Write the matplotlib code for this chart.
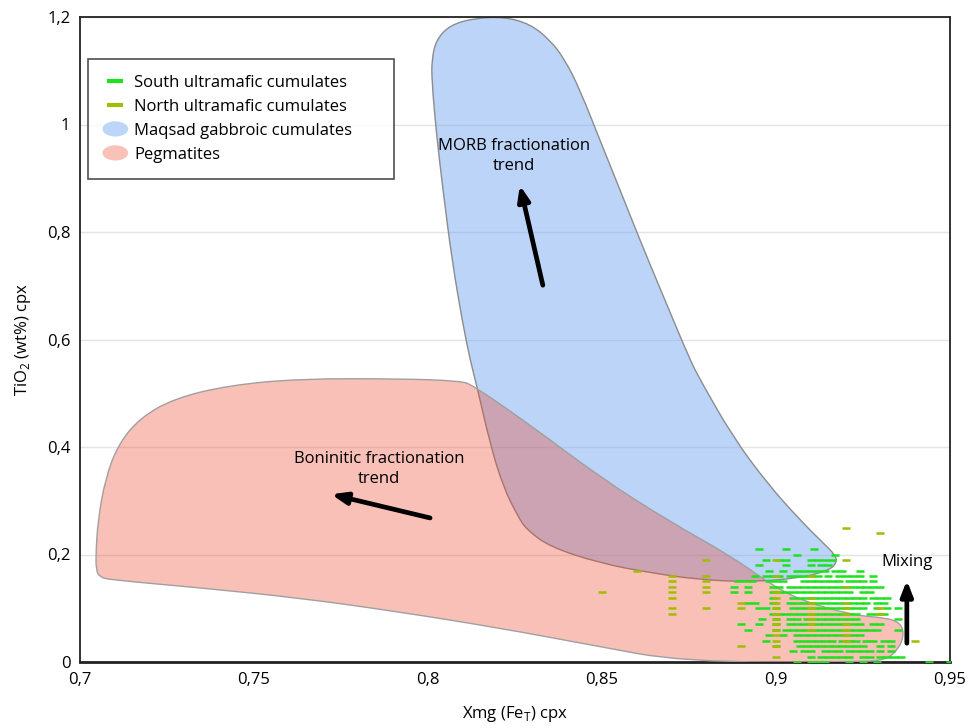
import matplotlib
matplotlib.use("Agg")
import matplotlib.pyplot as plt
import matplotlib.patches as mpatches
from matplotlib.path import Path
from matplotlib.lines import Line2D
from matplotlib.legend_handler import HandlerPatch, HandlerBase

plt.rcParams['font.family'] = ['Open Sans', 'DejaVu Sans']

# Outline of the Maqsad gabbroic cumulates field (Xmg, TiO2)
gabbro_x = [0.8011, 0.8011, 0.8023, 0.8063, 0.8135, 0.8221, 0.8293, 0.8351, 0.8394,
            0.8437, 0.8494, 0.8552, 0.8609, 0.8681, 0.8753, 0.8782, 0.8876, 0.8974,
            0.9069, 0.9141, 0.9170, 0.9175, 0.9155, 0.9069, 0.8925, 0.8782, 0.8638,
            0.8494, 0.8351, 0.8284, 0.8259, 0.8216, 0.8178, 0.8141, 0.8121, 0.8098,
            0.8069, 0.8043, 0.8023]
gabbro_y = [1.083, 1.120, 1.157, 1.185, 1.198, 1.200, 1.187, 1.157, 1.120,
            1.064, 0.971, 0.878, 0.785, 0.673, 0.562, 0.525, 0.419, 0.333,
            0.264, 0.218, 0.199, 0.186, 0.171, 0.156, 0.149, 0.153, 0.166,
            0.184, 0.214, 0.246, 0.270, 0.326, 0.407, 0.512, 0.562, 0.636,
            0.748, 0.878, 0.990]

# Outline of the pegmatite field
pegm_x = [0.7046, 0.7052, 0.7072, 0.7109, 0.7172, 0.7273, 0.7431, 0.7632, 0.7920,
          0.8092, 0.8129, 0.8302, 0.8494, 0.8687, 0.8876, 0.8974, 0.9069, 0.9221,
          0.9319, 0.9356, 0.9368, 0.9356, 0.9319, 0.9241, 0.8733, 0.8466, 0.8207,
          0.7920, 0.7632, 0.7345, 0.7086, 0.7057, 0.7046]
pegm_y = [0.208, 0.264, 0.339, 0.404, 0.454, 0.491, 0.515, 0.527, 0.527,
          0.523, 0.515, 0.437, 0.344, 0.264, 0.195, 0.149, 0.115, 0.087,
          0.082, 0.073, 0.054, 0.028, 0.004, 0.0, 0.0, 0.032, 0.063,
          0.093, 0.119, 0.138, 0.153, 0.158, 0.171]

# South ultramafic cumulates, one list of Xmg per TiO2 value
south_rows = [
    (0.21, [0.895, 0.903, 0.911]),
    (0.20, [0.906, 0.917]),
    (0.19, [0.897, 0.901, 0.903, 0.910, 0.912, 0.914, 0.916]),
    (0.18, [0.895, 0.903, 0.910, 0.913, 0.915]),
    (0.17, [0.898, 0.902, 0.906, 0.908, 0.910, 0.912, 0.914, 0.917, 0.919, 0.924]),
    (0.16, [0.894, 0.897, 0.899, 0.901, 0.904, 0.906, 0.908, 0.910, 0.912, 0.915,
            0.918, 0.920, 0.922, 0.924, 0.928]),
    (0.15, [0.889, 0.891, 0.893, 0.898, 0.900, 0.902, 0.908, 0.910, 0.912, 0.914,
            0.916, 0.918, 0.921, 0.923, 0.925, 0.928]),
    (0.14, [0.888, 0.892, 0.899, 0.901, 0.904, 0.906, 0.908, 0.910, 0.912, 0.914,
            0.916, 0.918, 0.920, 0.922, 0.924, 0.926, 0.928, 0.930]),
    (0.13, [0.888, 0.892, 0.899, 0.901, 0.903, 0.905, 0.907, 0.909, 0.911, 0.913,
            0.915, 0.917, 0.919, 0.921, 0.925, 0.927]),
    (0.12, [0.899, 0.905, 0.907, 0.909, 0.911, 0.913, 0.915, 0.917, 0.919, 0.921,
            0.923, 0.925, 0.928, 0.930, 0.932]),
    (0.11, [0.892, 0.894, 0.899, 0.904, 0.906, 0.908, 0.910, 0.912, 0.914, 0.916,
            0.918, 0.920, 0.922, 0.924, 0.926, 0.929, 0.931]),
    (0.10, [0.895, 0.897, 0.900, 0.905, 0.907, 0.909, 0.911, 0.913, 0.915, 0.917,
            0.919, 0.921, 0.923, 0.925, 0.929, 0.932, 0.935]),
    (0.09, [0.899, 0.901, 0.903, 0.905, 0.907, 0.909, 0.911, 0.913, 0.915, 0.917,
            0.919, 0.921, 0.923, 0.927, 0.929, 0.931]),
    (0.08, [0.896, 0.900, 0.904, 0.906, 0.909, 0.911, 0.913, 0.915, 0.917, 0.919,
            0.921, 0.923, 0.935]),
    (0.07, [0.890, 0.895, 0.900, 0.904, 0.906, 0.908, 0.910, 0.912, 0.914, 0.916,
            0.918, 0.920, 0.922, 0.924, 0.928, 0.930]),
    (0.06, [0.892, 0.900, 0.903, 0.905, 0.907, 0.909, 0.911, 0.913, 0.915, 0.917,
            0.919, 0.921, 0.923, 0.925, 0.927, 0.929, 0.935]),
    (0.05, [0.898, 0.902, 0.906, 0.908, 0.910, 0.912, 0.914, 0.916, 0.918, 0.920,
            0.922, 0.924]),
    (0.04, [0.897, 0.906, 0.908, 0.910, 0.912, 0.914, 0.916, 0.919, 0.921, 0.923,
            0.926, 0.928, 0.931, 0.933]),
    (0.03, [0.900, 0.907, 0.909, 0.911, 0.913, 0.915, 0.917, 0.919, 0.921, 0.923,
            0.925, 0.930, 0.933]),
    (0.02, [0.905, 0.908, 0.910, 0.914, 0.916, 0.918, 0.921, 0.923, 0.925, 0.927,
            0.930, 0.933]),
    (0.01, [0.910, 0.913, 0.915, 0.917, 0.919, 0.921, 0.925, 0.927, 0.930, 0.932,
            0.934, 0.936]),
    (0.00, [0.906, 0.910, 0.912, 0.914, 0.921, 0.925, 0.929, 0.944, 0.950]),
]

# North ultramafic cumulates, one list of TiO2 per Xmg value
north_cols = [
    (0.85, [0.13]),
    (0.86, [0.17]),
    (0.87, [0.16, 0.15, 0.14, 0.13, 0.12, 0.10, 0.09]),
    (0.88, [0.19, 0.16, 0.15, 0.14, 0.13, 0.10]),
    (0.89, [0.11, 0.10, 0.03]),
    (0.90, [0.19, 0.16, 0.13, 0.12, 0.11, 0.10, 0.09, 0.08, 0.07, 0.06, 0.05,
            0.04, 0.03, 0.01]),
    (0.91, [0.16, 0.12, 0.11, 0.10, 0.09, 0.08, 0.07, 0.06]),
    (0.92, [0.25, 0.19, 0.14, 0.11, 0.10, 0.09, 0.07, 0.06, 0.05, 0.04]),
    (0.93, [0.24, 0.10, 0.09]),
    (0.94, [0.04]),
]

x_ticks = [0.7, 0.75, 0.8, 0.85, 0.9, 0.95]
x_labels = ['0,7', '0,75', '0,8', '0,85', '0,9', '0,95']
y_ticks = [0, 0.2, 0.4, 0.6, 0.8, 1.0, 1.2]
y_labels = ['0', '0,2', '0,4', '0,6', '0,8', '1', '1,2']

south_color = '#1de21d'
north_color = '#9dbf00'
blue_fill = (0.47, 0.67, 0.94, 0.5)
pink_fill = (0.93, 0.25, 0.15, 0.33)


def smooth_outline(xs, ys):
    # closed quadratic curve: outline points act as control points
    pts = list(zip(xs, ys))
    n = len(pts)
    mids = [((pts[i][0] + pts[(i + 1) % n][0]) / 2, (pts[i][1] + pts[(i + 1) % n][1]) / 2)
            for i in range(n)]
    verts = [mids[-1]]
    codes = [Path.MOVETO]
    for i in range(n):
        verts += [pts[i], mids[i]]
        codes += [Path.CURVE3, Path.CURVE3]
    verts.append(mids[-1])
    codes.append(Path.CLOSEPOLY)
    return Path(verts, codes)


fig = plt.figure(figsize=(9.74, 7.28), dpi=100)
ax = fig.add_axes([80 / 974, 1 - 662 / 728, 870 / 974, 645 / 728])

ax.add_patch(mpatches.PathPatch(smooth_outline(gabbro_x, gabbro_y),
                                facecolor=blue_fill, edgecolor='#8c8c8c', lw=1, zorder=2))
ax.add_patch(mpatches.PathPatch(smooth_outline(pegm_x, pegm_y),
                                facecolor=pink_fill, edgecolor='#a0a0a0', lw=1, zorder=3))

sx, sy = [], []
for y, xs in south_rows:
    sx += xs
    sy += [y] * len(xs)
nx, ny = [], []
for x, ys in north_cols:
    nx += [x] * len(ys)
    ny += ys

ax.plot(sx, sy, ls='none', marker='_', ms=5.2, mew=1.8, color=south_color, zorder=5)
ax.plot(nx, ny, ls='none', marker='_', ms=5.2, mew=1.8, color=north_color, zorder=6)

# trend arrows
arrow = dict(arrowstyle='-|>,head_width=0.35,head_length=0.9', lw=3.4,
             color='black', shrinkA=0, shrinkB=0)
ax.annotate('', xy=(0.8264, 0.887), xytext=(0.8330, 0.701), arrowprops=arrow, zorder=7)
ax.annotate('', xy=(0.7722, 0.312), xytext=(0.8006, 0.268), arrowprops=arrow, zorder=7)
ax.annotate('', xy=(0.9376, 0.152), xytext=(0.9376, 0.035), arrowprops=arrow, zorder=7)

ax.text(0.8247, 0.941, 'MORB fractionation\ntrend', ha='center', va='center',
        fontsize=12, linespacing=1.3, zorder=8)
ax.text(0.7859, 0.359, 'Boninitic fractionation\ntrend', ha='center', va='center',
        fontsize=12, linespacing=1.3, zorder=8)
ax.text(0.9376, 0.186, 'Mixing', ha='center', va='center', fontsize=12, zorder=8)

ax.set_xlim(0.7, 0.95)
ax.set_ylim(0, 1.2)
ax.set_xticks(x_ticks)
ax.set_xticklabels(x_labels)
ax.set_yticks(y_ticks)
ax.set_yticklabels(y_labels)
ax.tick_params(length=0, labelsize=12, pad=7)
ax.yaxis.grid(True, color='#e4e4e4', lw=1)
ax.set_axisbelow(True)
for s in ax.spines.values():
    s.set_color('#222222')
    s.set_linewidth(1.3)
ax.spines['bottom'].set_linewidth(2)

ax.set_xlabel('Xmg (Fe$_\\mathregular{T}$) cpx', fontsize=12, labelpad=12)
ax.set_ylabel('TiO$_\\mathregular{2}$ (wt%) cpx', fontsize=12, labelpad=10)


class HandlerEllipse(HandlerPatch):
    def create_artists(self, legend, orig_handle, xdescent, ydescent,
                       width, height, fontsize, trans):
        center = 0.5 * width - 0.5 * xdescent, 0.5 * height - 0.5 * ydescent
        p = mpatches.Ellipse(xy=center, width=width * 1.1, height=height * 1.3)
        self.update_prop(p, orig_handle, legend)
        p.set_transform(trans)
        return [p]


class HandlerDash(HandlerBase):
    def create_artists(self, legend, orig_handle, xdescent, ydescent,
                       width, height, fontsize, trans):
        y = 0.5 * height - 0.5 * ydescent
        line = Line2D([0.15 * width, 0.85 * width], [y, y],
                      color=orig_handle.get_color(), lw=3, solid_capstyle='butt')
        line.set_transform(trans)
        return [line]


handles = [
    Line2D([], [], color=south_color, lw=3),
    Line2D([], [], color=north_color, lw=3),
    mpatches.Patch(facecolor='#bcd5f9', edgecolor='none'),
    mpatches.Patch(facecolor='#f9c1b8', edgecolor='none'),
]
labels = ['South ultramafic cumulates', 'North ultramafic cumulates',
          'Maqsad gabbroic cumulates', 'Pegmatites']
leg = ax.legend(handles, labels, loc='upper left',
                bbox_to_anchor=(0.009, 0.5, 0.352, 0.435), mode='expand',
                borderaxespad=0, fontsize=12, frameon=True, fancybox=False,
                handlelength=1.4, handletextpad=0.45, labelspacing=0.48,
                borderpad=0.95,
                handler_map={mpatches.Patch: HandlerEllipse(), Line2D: HandlerDash()})
leg.get_frame().set_edgecolor('#222222')
leg.get_frame().set_linewidth(1.2)
leg.set_zorder(10)

fig.savefig('out.png', dpi=100)
